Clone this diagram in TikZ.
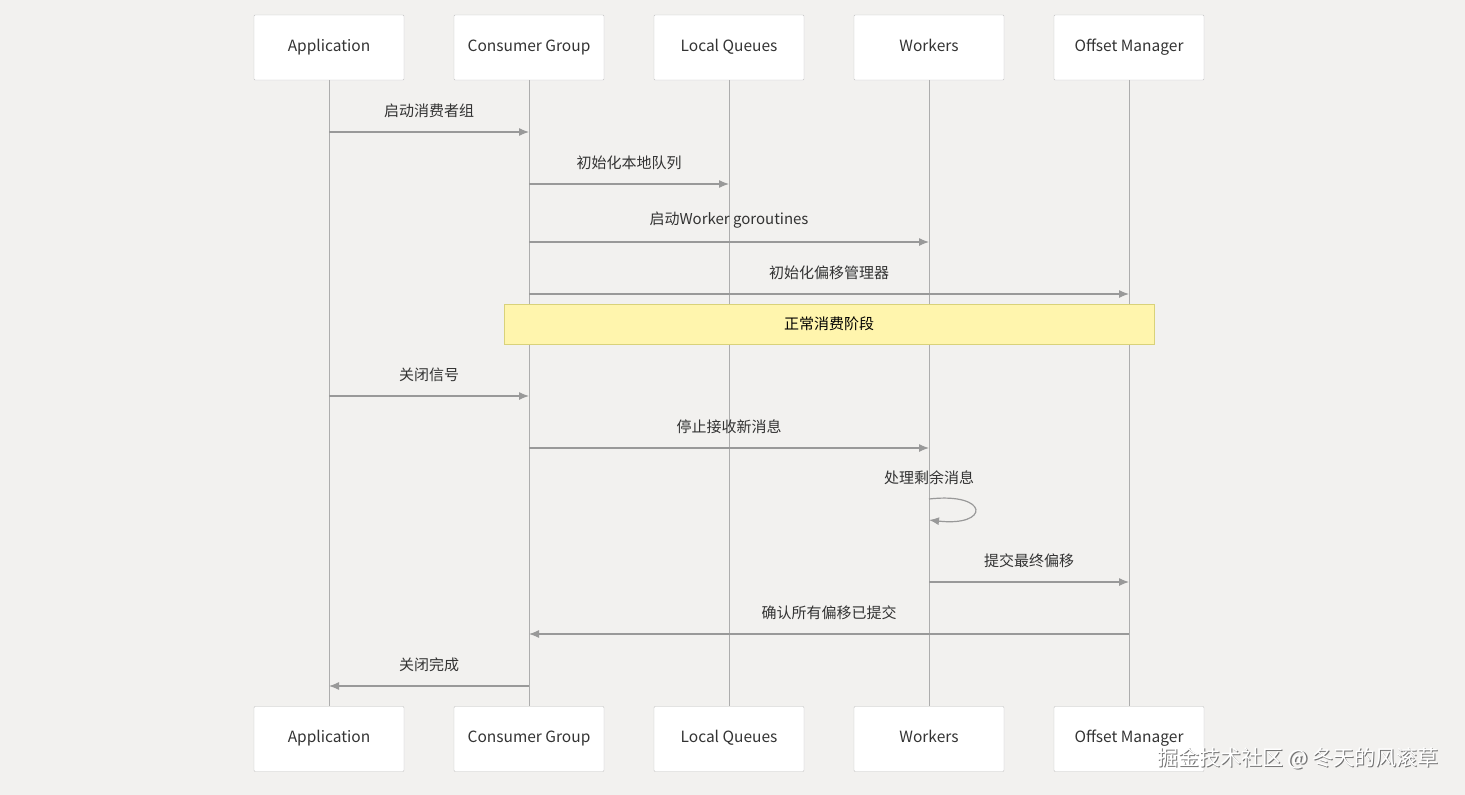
\documentclass[tikz,border=0pt]{standalone}
\usepackage{fontspec}
\setmainfont{Noto Sans CJK SC}
\usetikzlibrary{arrows.meta}
\definecolor{bg}{HTML}{F2F1EF}
\definecolor{ln}{HTML}{999999}
\definecolor{notefill}{HTML}{FFF5AD}
\definecolor{noteline}{HTML}{D9D27A}
\tikzset{
 actor/.style={draw=ln!60,fill=white,minimum width=150pt,minimum height=65pt,inner sep=0pt,text height=11pt,text depth=4pt,font=\fontsize{15.5}{18}\selectfont,text=black!80,rounded corners=1pt},
 life/.style={draw=ln!80,line width=1pt},
 msg/.style={draw=ln,line width=1.2pt,-{Latex[length=10pt,width=8pt]}},
 lbl/.style={font=\fontsize{15}{18}\selectfont,text=black!80}
}
\begin{document}
\begin{tikzpicture}[x=1pt,y=-1pt]
\fill[bg] (0,0) rectangle (1465,795);
\useasboundingbox (0,0) rectangle (1465,795);
\foreach \n/\x/\t in {a/329/Application,c/529/Consumer Group,q/729/Local Queues,w/929/Workers,o/1129/Offset Manager}{
  \node[actor] (\n t) at (\x,47.5) {\t};
  \node[actor] (\n b) at (\x,739) {\t};
  \draw[life] (\n t.south) -- (\n b.north);
}
\node[draw=noteline,fill=notefill,minimum width=650pt,minimum height=40pt,inner sep=0pt,font=\fontsize{15}{18}\selectfont] (note) at (829,324) {正常消费阶段};
\foreach \f/\t/\y/\l in {a/c/132/启动消费者组,c/q/184/初始化本地队列,c/w/242/启动Worker goroutines,c/o/294/初始化偏移管理器,a/c/396/关闭信号,c/w/448/停止接收新消息,w/o/582/提交最终偏移,o/c/634/确认所有偏移已提交,c/a/686/关闭完成}{
  \coordinate (s) at (\f t.south |- 0,\y);
  \coordinate (e) at (\t t.south |- 0,\y);
  \draw[msg] (s) -- (e) node[lbl,midway,above=10pt] {\l};
}
\coordinate (ls) at (929,499);
\coordinate (le) at (929,520);
\draw[msg] (ls) .. controls (990,492) and (990,527) .. (le);
\node[lbl] (sl) at (929,478) {处理剩余消息};
\node[font=\fontsize{21}{24}\selectfont,text=black!55,anchor=east] (wms) at (1443.5,759.5) {掘金技术社区 @ 冬天的风滚草};
\node[font=\fontsize{21}{24}\selectfont,text=white,anchor=east] (wm) at (1442,758) {掘金技术社区 @ 冬天的风滚草};
\end{tikzpicture}
\end{document}
